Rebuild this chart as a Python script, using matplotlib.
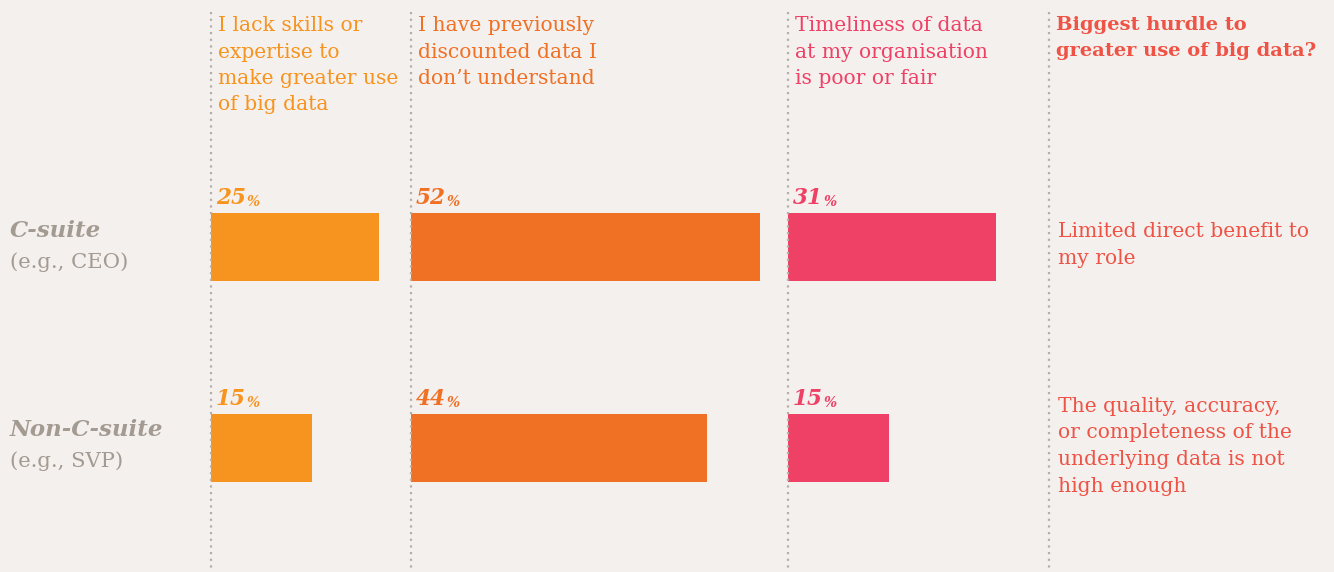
import matplotlib.pyplot as plt
from matplotlib.lines import Line2D

# data
groups = ['C-suite', 'Non-C-suite']
group_notes = ['(e.g., CEO)', '(e.g., SVP)']
headers = ['I lack skills or\nexpertise to\nmake greater use\nof big data',
           'I have previously\ndiscounted data I\ndon\u2019t understand',
           'Timeliness of data\nat my organisation\nis poor or fair']
lack_skills = [25, 15]
discounted = [52, 44]
timeliness = [31, 15]
hurdle_title = 'Biggest hurdle to\ngreater use of big data?'
hurdles = ['Limited direct benefit to\nmy role',
           'The quality, accuracy,\nor completeness of the\nunderlying data is not\nhigh enough']

W, H = 1334, 572
bg = '#F4F0ED'
col_colors = ['#F7931F', '#F07024', '#EF4066']
red = '#EE5346'
grey = '#A39A92'
dot_grey = '#B5AFAA'

plt.rcParams['font.family'] = ['DejaVu Serif']

fig = plt.figure(figsize=(W / 100, H / 100), dpi=100)
fig.patch.set_facecolor(bg)


def fx(x):
    return x / W


def fy(y):
    return 1 - y / H


# column layout in pixels
col_left = [211, 411, 788]
col_width = [195, 372, 255]
px_per_pct = 6.72
row_top, row_bottom = 146.5, 548.5

series = [lack_skills, discounted, timeliness]
for i, vals in enumerate(series):
    ax = fig.add_axes([fx(col_left[i]), fy(row_bottom), col_width[i] / W,
                       (row_bottom - row_top) / H])
    ax.set_xlim(0, col_width[i] / px_per_pct)
    ax.set_ylim(1.5, -0.5)
    ax.axis('off')
    ax.barh(range(len(vals)), vals, height=0.338, color=col_colors[i])
    for r, v in enumerate(vals):
        t = ax.annotate(str(v), xy=(0, r - 0.169), xytext=(5, 4),
                        textcoords='offset pixels', ha='left', va='bottom',
                        fontsize=15.5, fontweight='bold', fontstyle='italic',
                        color=col_colors[i])
        ax.annotate('%', xy=(1, 0), xycoords=t, xytext=(0, 0),
                    textcoords='offset pixels', ha='left', va='bottom',
                    fontsize=10, fontweight='bold', fontstyle='italic',
                    color=col_colors[i])
    fig.text(fx(col_left[i] + 7), fy(16), headers[i], ha='left', va='top',
             fontsize=14.6, color=col_colors[i], linespacing=1.5)

# dotted separators
for x in col_left + [1049]:
    fig.add_artist(Line2D([fx(x), fx(x)], [fy(12), fy(572)], color=dot_grey,
                          linewidth=1.6, linestyle=(0, (1, 2))))

# right column
fig.text(fx(1056), fy(16), hurdle_title, ha='left', va='top', fontsize=14,
         fontweight='bold', color=red, linespacing=1.57)
for y, txt in zip([222, 397], hurdles):
    fig.text(fx(1058), fy(y), txt, ha='left', va='top', fontsize=14.6,
             color=red, linespacing=1.5)

# row labels
for y, g, n in zip([231, 430], groups, group_notes):
    fig.text(fx(10), fy(y), g, ha='left', va='center', fontsize=16.5,
             fontweight='bold', fontstyle='italic', color=grey)
    fig.text(fx(10), fy(y + 31), n, ha='left', va='center', fontsize=15.2,
             color=grey)

fig.savefig('out.png', dpi=100, facecolor=bg)
